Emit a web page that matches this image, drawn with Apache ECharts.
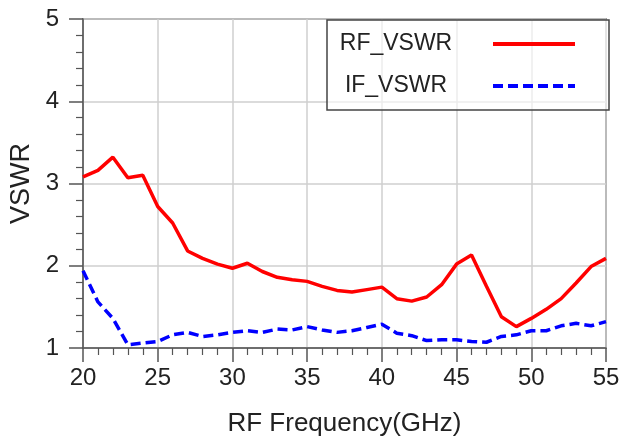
<!DOCTYPE html>
<html>
<head>
<meta charset="utf-8">
<script src="https://cdn.jsdelivr.net/npm/echarts@6/dist/echarts.min.js"></script>
<style>
html,body{margin:0;padding:0;background:#fff;}
#chart{width:622px;height:440px;}
</style>
</head>
<body>
<div id="chart"></div>
<script>
var freqs = [20,21,22,23,24,25,26,27,28,29,30,31,32,33,34,35,36,37,38,39,40,41,42,43,44,45,46,47,48,49,50,51,52,53,54,55];
var rfVswr = [3.08,3.16,3.32,3.07,3.10,2.72,2.52,2.18,2.09,2.02,1.97,2.03,1.93,1.86,1.83,1.81,1.75,1.70,1.68,1.71,1.74,1.60,1.57,1.62,1.77,2.02,2.13,1.75,1.38,1.26,1.36,1.47,1.60,1.79,1.99,2.09];
var ifVswr = [1.94,1.56,1.36,1.04,1.06,1.08,1.16,1.19,1.14,1.16,1.19,1.21,1.19,1.23,1.22,1.26,1.22,1.19,1.21,1.25,1.29,1.18,1.15,1.09,1.10,1.10,1.08,1.07,1.14,1.16,1.21,1.21,1.27,1.30,1.27,1.32];
var xTicks = [20,25,30,35,40,45,50,55];
var yTicks = [1,2,3,4,5];
var seriesNames = ['RF_VSWR','IF_VSWR'];

function pairs(xs, ys){ return xs.map(function(x,i){ return [x, ys[i]]; }); }

var FONT = '"Liberation Sans", Arial, sans-serif';
var chart = echarts.init(document.getElementById('chart'), null, {renderer:'canvas'});
chart.setOption({
  animation:false,
  backgroundColor:'#fff',
  grid:{left:83,right:16,top:19,bottom:92,containLabel:false,outerBoundsMode:'none',
        show:true,borderColor:'#555',borderWidth:1.5,backgroundColor:'transparent'},
  xAxis:{
    type:'value', min:xTicks[0], max:xTicks[xTicks.length-1], interval:5,
    name:'RF Frequency(GHz)', nameLocation:'middle', nameGap:63,
    nameTextStyle:{fontFamily:FONT,fontSize:26,color:'#222'},
    axisLine:{show:true,lineStyle:{color:'#555',width:1.5}},
    axisTick:{show:true,inside:false,length:14,lineStyle:{color:'#555',width:1.5}},
    minorTick:{show:true,splitNumber:5,length:7,lineStyle:{color:'#555',width:1.2}},
    axisLabel:{fontFamily:FONT,fontSize:24,color:'#222',margin:18},
    splitLine:{show:true,lineStyle:{color:'#cfcfcf',width:1.5}}
  },
  yAxis:{
    type:'value', min:yTicks[0], max:yTicks[yTicks.length-1], interval:1,
    name:'VSWR', nameLocation:'middle', nameGap:47,
    nameTextStyle:{fontFamily:FONT,fontSize:27,color:'#222'},
    axisLine:{show:true,lineStyle:{color:'#555',width:1.5}},
    axisTick:{show:true,inside:false,length:14,lineStyle:{color:'#555',width:1.5}},
    minorTick:{show:true,splitNumber:5,length:7,lineStyle:{color:'#555',width:1.2}},
    axisLabel:{fontFamily:FONT,fontSize:24,color:'#222',margin:24},
    splitLine:{show:true,lineStyle:{color:'#cfcfcf',width:1.5}}
  },
  legend:{
    show:true, orient:'vertical', align:'right', left:327, top:20,
    padding:[9,32,9,10], itemGap:12, itemWidth:82, itemHeight:14,
    borderColor:'#444', borderWidth:1.5, backgroundColor:'rgba(255,255,255,0.6)',
    itemStyle:{color:'rgba(0,0,0,0)',borderColor:'rgba(0,0,0,0)',borderWidth:0},
    lineStyle:{width:4},
    formatter:'{a|{name}}{s|}',
    textStyle:{fontFamily:FONT,fontSize:23,color:'#222',lineHeight:30,
      rich:{a:{width:118,align:'center',fontFamily:FONT,fontSize:23,color:'#222'},s:{width:33}}},
    data:seriesNames
  },
  series:[
    {name:seriesNames[0],type:'line',data:pairs(freqs,rfVswr),symbol:'none',
     lineStyle:{color:'#ff0000',width:3.5,type:'solid'},itemStyle:{color:'#ff0000'},z:3},
    {name:seriesNames[1],type:'line',data:pairs(freqs,ifVswr),symbol:'none',
     lineStyle:{color:'#0000ff',width:3.5,type:[10,5]},itemStyle:{color:'#0000ff'},z:2}
  ]
});
</script>
</body>
</html>
